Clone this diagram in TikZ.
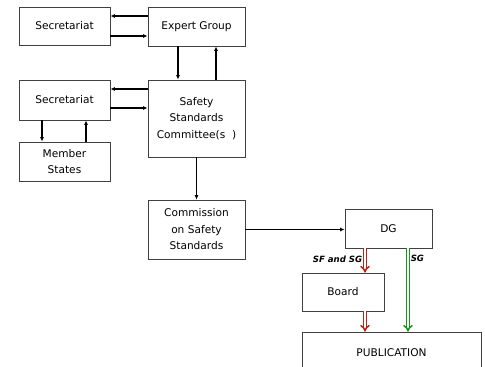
\documentclass[tikz,border=0pt]{standalone}
\usepackage{fontspec}
\setmainfont{DejaVu Sans}
\usetikzlibrary{arrows.meta, calc, positioning}
\definecolor{boardred}{RGB}{185,35,15}
\definecolor{sggreen}{RGB}{25,150,25}

\begin{document}
\begin{tikzpicture}[x=1pt, y=1pt, arro/.style = {-{Latex[length=4.5pt,width=4pt]}, line width=1.3pt}]

\tikzstyle{format} = [draw=black!75, line width=0.8pt, align=center, inner sep=2pt, font=\fontsize{10.6}{16.5}\selectfont]
\tikzstyle{dbl} = [double, line width=1.5pt, double distance=1.6pt, -{Implies}]
\tikzstyle{tag} = [font=\fontsize{8.6}{10}\selectfont\bfseries\itshape, inner sep=2pt]

\useasboundingbox (0,0) rectangle (485,-367);

% top row
\node[format, minimum width=91pt, minimum height=38pt] at (64.5,-26) (sec1) {Secretariat};
\node[format, minimum width=97pt, minimum height=39pt] at (196.5,-26.5) (eg) {Expert Group};
% connections
\draw[arro] ($(eg.west)+(0,10.5)$) -- ($(sec1.east)+(0,10)$);
\draw[arro] ($(sec1.east)+(0,-10)$) -- ($(eg.west)+(0,-9.5)$);
% middle row
\node[format, minimum width=91pt, minimum height=40pt] at (64.5,-100) (sec2) {Secretariat};
\node[format, minimum width=97pt, minimum height=77pt] at (196.5,-118.5) (ssc) {Safety\\Standards\\Committee(s~~)};
\node[format, minimum width=91pt, minimum height=39pt] at (64.5,-161.5) (ms) {Member\\States};
% connections
\draw[arro] ($(eg.south)+(-18.5,0)$) -- ($(ssc.north)+(-18.5,0)$);
\draw[arro] ($(ssc.north)+(19.5,0)$) -- ($(eg.south)+(19.5,0)$);
\draw[arro] ($(ssc.west |- sec2.east)+(0,11)$) -- ($(sec2.east)+(0,11)$);
\draw[arro] ($(sec2.east)+(0,-8)$) -- ($(ssc.west |- sec2.east)+(0,-8)$);
\draw[arro] ($(sec2.south)+(-22.5,0)$) -- ($(ms.north)+(-22.5,0)$);
\draw[arro] ($(ms.north)+(21.5,0)$) -- ($(sec2.south)+(21.5,0)$);
% commission
\node[format, minimum width=97pt, minimum height=59pt] at (196.5,-229.5) (css) {Commission\\on Safety\\Standards};
\draw[arro] (ssc.south) -- (css.north);
% DG
\node[format, minimum width=87pt, minimum height=39pt] at (388.5,-228.5) (dg) {DG};
\draw[arro, line width=0.9pt] (css.east) -- (css.east -| dg.west);
% board and publication
\node[format, minimum width=82pt, minimum height=38pt] at (343,-292) (board) {Board};
\node[format, minimum width=179pt, minimum height=42pt] at (391.5,-353) (pub) {PUBLICATION};
\coordinate (redx) at ($(dg.south)+(-23.5,0)$);
\coordinate (greenx) at ($(dg.south)+(19.5,0)$);
% connections
\draw[dbl, boardred] (redx) -- node[tag, left, pos=0.45, text=black] {SF and SG} (redx |- board.north);
\draw[dbl, boardred] (board.south -| redx) -- (pub.north -| redx);
\draw[dbl, sggreen] (greenx) -- node[tag, right, pos=0.12, text=black] {SG} (greenx |- pub.north);
\end{tikzpicture}
\end{document}
